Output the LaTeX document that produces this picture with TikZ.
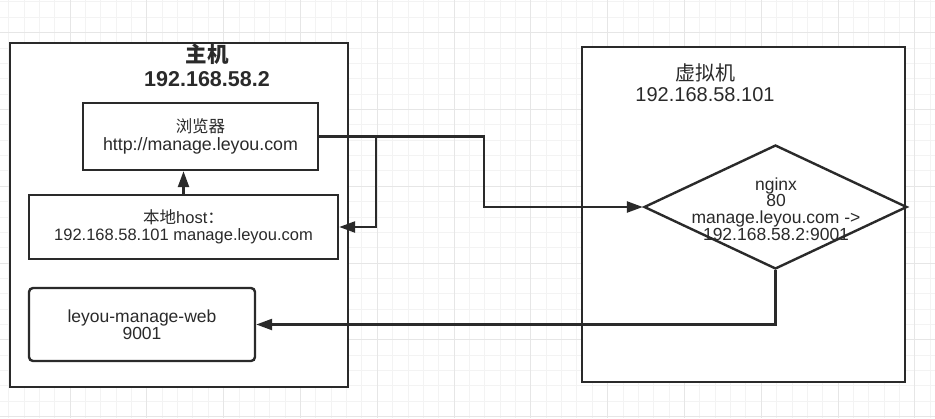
\documentclass[tikz,border=0pt]{standalone}
\usepackage{fontspec}
\setmainfont{Liberation Sans}
\newfontfamily\cjk{Noto Sans CJK SC}
\usetikzlibrary{arrows.meta,shapes.geometric,calc}
\definecolor{ink}{HTML}{2A2A2A}
\definecolor{gridminor}{HTML}{F3F3F3}
\definecolor{gridmajor}{HTML}{E6E6E6}
\tikzset{
  frame/.style={draw=ink,line width=2.4pt,fill=white,inner sep=0pt},
  boxtext/.style={text=ink,align=center,font=\fontsize{16.5}{17}\selectfont,inner sep=0pt},
  titletext/.style={text=ink,align=center,inner sep=0pt},
  conn/.style={draw=ink,line width=2.4pt,-{Triangle[length=16pt,width=11pt]}},
  gminor/.style={draw=gridminor,line width=0.8pt},
  gmajor/.style={draw=gridmajor,line width=1pt}
}
\begin{document}
\begin{tikzpicture}[x=1pt,y=-1pt]
\useasboundingbox (0,0) rectangle (935,418);
\fill[white] (0,0) rectangle (935,418);
% background grid
\foreach \i in {0,...,60} {\draw[gminor] ({8.56+\i*15.36},0) -- ({8.56+\i*15.36},418);}
\foreach \i in {0,...,27} {\draw[gminor] (0,{1.88+\i*15.36}) -- (935,{1.88+\i*15.36});}
\foreach \i in {0,...,12} {\draw[gmajor] ({-6.8+\i*76.8},0) -- ({-6.8+\i*76.8},418);}
\foreach \i in {0,...,5} {\draw[gmajor] (0,{32.6+\i*76.8}) -- (935,{32.6+\i*76.8});}

% host machine
\node[frame,minimum width=338pt,minimum height=344pt] (host) at (179,215) {};
\node[titletext,font=\fontsize{21.5}{24}\selectfont\bfseries] (hostT) at (207,65) {{\cjk\bfseries 主机}\\192.168.58.2};
\node[frame,minimum width=235pt,minimum height=67pt] (br) at (200.5,136.5) {};
\node[boxtext,font=\fontsize{17.8}{18}\selectfont] (brT) at (br.center) {{\cjk\fontsize{16.5}{18}\selectfont 浏览器}\\http://manage.leyou.com};
\node[frame,minimum width=309pt,minimum height=64pt] (hb) at (183.5,227) {};
\node[boxtext] (hbT) at (hb.center) {{\cjk 本地}host{\cjk ：}\\192.168.58.101 manage.leyou.com};
\node[frame,rounded corners=4pt,minimum width=226pt,minimum height=73pt] (lw) at (142,324.5) {};
\node[boxtext,font=\fontsize{17.5}{17}\selectfont] (lwT) at (142,325) {leyou-manage-web\\9001};

% virtual machine
\node[frame,minimum width=323pt,minimum height=335pt] (vm) at (743.5,214.5) {};
\node[titletext,font=\fontsize{20}{21}\selectfont] (vmT) at (705,83) {{\cjk 虚拟机}\\192.168.58.101};
\node[frame,diamond,minimum width=263pt,minimum height=124pt] (ng) at (775.5,207) {};
\node[boxtext,font=\fontsize{17.5}{16.7}\selectfont] (ngT) at (776,209) {nginx\\80\\manage.leyou.com ->\\192.168.58.2:9001};

% connectors
\draw[conn] (br.east) -- ++(165,0) |- (ng.west);
\draw[conn] (br.east) -- ++(57,0) |- (hb.east);
\draw[conn] (hb.north) -- (hb.north |- br.south);
\draw[conn] (ng.south) |- (lw.east);
\end{tikzpicture}
\end{document}
